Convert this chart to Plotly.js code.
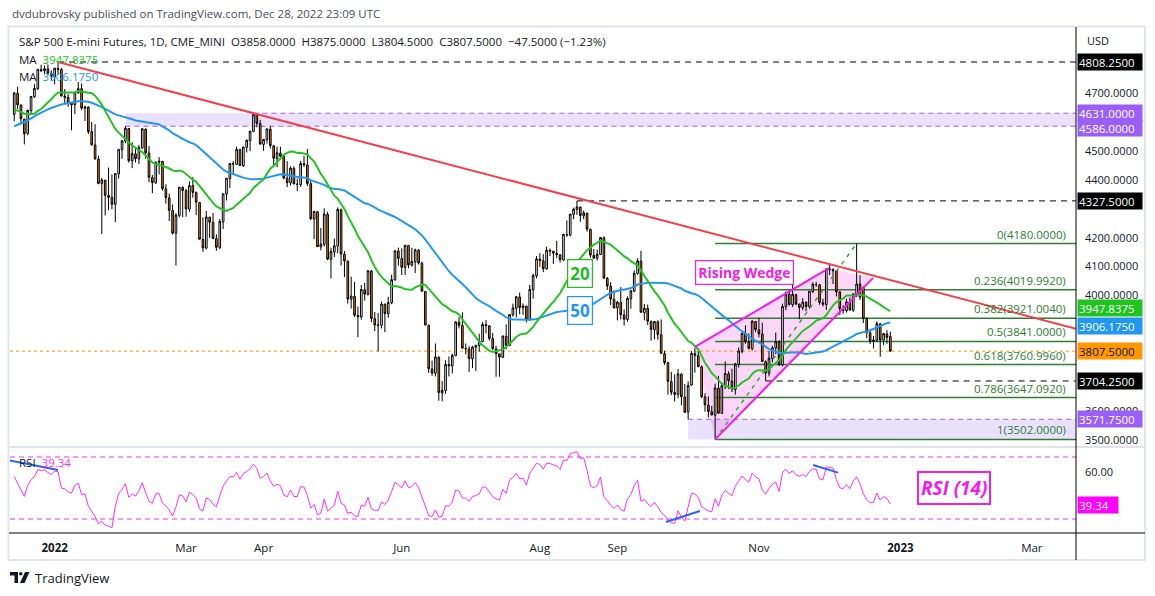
<!DOCTYPE html>
<html><head><meta charset="utf-8">
<script src="https://cdn.plot.ly/plotly-3.0.1.min.js"></script>
<style>html,body{margin:0;padding:0;background:#fff;}#chart{width:1155px;height:596px;}</style>
</head><body><div id="chart"></div>
<script>
// ---- closes before the visible window (Oct 4 - Dec 14 2021), used only to warm up MA / RSI
const preCloses = [4292,4338,4356,4392,4383,4353,4343,4356,4430,4463,4478,4512,4528,4542,4537,4558,4567,4544,4588,4597,
4606,4623,4653,4672,4690,4694,4677,4639,4641,4675,4675,4693,4681,4697,4690,4675,4683,4693,4587,4647,4559,
4505,4569,4530,4584,4679,4693,4659,4704,4661,4626];

// ---- daily bars [open, high, low, close]
const dec2021 = [[4627,4704,4603,4701],[4700,4723,4646,4660],[4659,4662,4592,4612],[4610,4612,4523,4560],[4561,4643,4555,4641],[4640,4689,4626,4689],[4688,4732,4684,4717],[4716,4783,4712,4783],[4782,4799,4773,4778],[4778,4796,4765,4785],[4784,4800,4762,4770],[4769,4779,4746,4758]];
const jan2022 = [[4757,4787,4731,4787],[4786,4808.25,4764,4783],[4782,4788,4689,4691],[4690,4715,4661,4686],[4686,4698,4653,4667],[4666,4668,4572,4660],[4660,4704,4628,4703],[4702,4739,4698,4716],[4716,4734,4641,4649],[4648,4656,4604,4653],[4652,4655,4559,4567],[4567,4601,4518,4522],[4521,4593,4470,4473],[4472,4484,4385,4388],[4388,4407,4213,4400],[4399,4401,4277,4347],[4346,4443,4295,4340],[4340,4419,4299,4316],[4316,4422,4254,4422],[4421,4507,4405,4506]];
const feb2022 = [[4505,4537,4473,4536],[4535,4586,4527,4579],[4578,4580,4460,4467],[4466,4530,4441,4491],[4490,4511,4461,4474],[4473,4521,4455,4512],[4511,4580,4508,4577],[4576,4578,4474,4494],[4493,4517,4392,4409],[4408,4417,4354,4391],[4390,4462,4386,4462],[4461,4479,4419,4465],[4464,4466,4363,4370],[4369,4385,4318,4339],[4338,4353,4258,4295],[4294,4315,4211,4216],[4215,4285,4104,4278],[4277,4375,4270,4375],[4374,4378,4271,4364]];
const mar2022 = [[4363,4369,4273,4300],[4299,4395,4290,4381],[4380,4410,4339,4357],[4356,4360,4279,4323],[4322,4324,4193,4195],[4194,4271,4151,4165],[4164,4293,4160,4272],[4271,4273,4200,4254],[4253,4286,4196,4198],[4197,4212,4155,4167],[4166,4265,4160,4256],[4255,4352,4230,4352],[4351,4406,4329,4406],[4405,4459,4372,4457],[4456,4466,4419,4455],[4454,4516,4452,4506],[4505,4508,4449,4450],[4449,4514,4445,4514],[4513,4540,4495,4537],[4536,4569,4500,4569],[4568,4631,4565,4626],[4625,4627,4582,4596],[4595,4608,4525,4524]];
const apr2022 = [[4523,4542,4501,4540],[4539,4577,4526,4577],[4576,4587,4509,4519],[4518,4520,4444,4475],[4474,4515,4444,4494],[4493,4515,4478,4482],[4481,4483,4402,4407],[4406,4465,4375,4391],[4390,4447,4381,4441],[4440,4447,4386,4386],[4385,4405,4361,4385],[4384,4465,4376,4457],[4456,4483,4445,4453],[4452,4507,4379,4388],[4387,4397,4261,4266],[4265,4293,4195,4291],[4290,4292,4169,4169],[4168,4234,4156,4178],[4177,4302,4170,4282],[4281,4290,4122,4126]];
const may2022 = [[4125,4166,4059,4152],[4151,4197,4133,4172],[4171,4305,4146,4298],[4297,4301,4104,4144],[4143,4154,4064,4120],[4119,4121,3972,3988],[3987,4065,3955,3998],[3997,4047,3926,3932],[3931,3962,3856,3927],[3926,4036,3916,4021],[4020,4044,3982,4005],[4004,4087,4000,4086],[4085,4088,3908,3921],[3920,3943,3877,3898],[3897,3940,3807,3898],[3897,3979,3886,3971],[3970,3972,3873,3938],[3937,3996,3923,3976],[3975,4072,3970,4055],[4054,4155,4052,4155],[4154,4166,4104,4129]];
const jun2022 = [[4128,4163,4071,4098],[4097,4174,4071,4174],[4173,4175,4094,4106],[4105,4165,4100,4118],[4117,4162,4078,4158],[4157,4161,4107,4113],[4112,4117,4014,4015],[4014,4016,3898,3898],[3897,3899,3732,3747],[3746,3775,3722,3732],[3731,3834,3720,3787],[3786,3790,3636,3664],[3663,3704,3634,3672],[3671,3776,3660,3762],[3761,3789,3720,3757],[3756,3799,3730,3793],[3792,3910,3790,3909],[3908,3925,3886,3897],[3896,3942,3817,3818],[3817,3834,3796,3816],[3815,3825,3735,3782]];
const jul2022 = [[3781,3826,3749,3822],[3821,3829,3739,3828],[3827,3868,3806,3842],[3841,3908,3838,3900],[3899,3915,3869,3896],[3895,3897,3844,3852],[3851,3871,3811,3816],[3815,3826,3719,3799],[3798,3800,3719,3787],[3786,3861,3784,3860],[3859,3900,3814,3828],[3827,3936,3825,3934],[3933,3972,3927,3957],[3956,3996,3924,3996],[3995,4010,3935,3959],[3958,3973,3933,3964],[3963,3965,3907,3918],[3917,4037,3912,4021],[4020,4076,3989,4069],[4068,4137,4060,4127]];
const aug2022 = [[4126,4147,4099,4121],[4120,4143,4081,4093],[4092,4169,4090,4157],[4156,4163,4137,4154],[4153,4155,4109,4147],[4146,4189,4130,4142],[4141,4143,4114,4124],[4123,4213,4120,4212],[4211,4260,4203,4210],[4209,4282,4205,4282],[4281,4304,4264,4299],[4298,4327.5,4279,4307],[4306,4308,4255,4277],[4276,4294,4264,4286],[4285,4287,4221,4230],[4229,4231,4131,4140],[4139,4161,4126,4130],[4129,4159,4121,4143],[4142,4202,4140,4201],[4200,4205,4059,4060],[4059,4064,4019,4033],[4032,4046,3967,3988],[3987,4018,3956,3957]];
const sep2022 = [[3958,3981,3914,3977],[3976,4029,3917,3934],[3933,3952,3896,3918],[3917,3997,3909,3990],[3989,4020,3954,4016],[4015,4087,4013,4077],[4076,4129,4072,4120],[4119,4155,3943,3942],[3941,3971,3914,3956],[3955,3969,3898,3911],[3910,3914,3844,3883],[3882,3911,3848,3910],[3909,3914,3847,3866],[3865,3917,3799,3800],[3799,3809,3760,3768],[3767,3771,3657,3703],[3702,3736,3655,3665],[3664,3727,3633,3658],[3657,3746,3644,3729],[3728,3730,3620,3650],[3649,3694,3594,3596]];
const oct2022 = [[3597,3703,3571.75,3689],[3690,3808,3688,3800],[3799,3818,3733,3793],[3792,3808,3752,3754],[3753,3758,3645,3650],[3649,3662,3598,3622],[3621,3651,3578,3599],[3598,3618,3585,3587],[3586,3695,3502,3680],[3679,3722,3590,3593],[3592,3699,3590,3687],[3686,3772,3676,3730],[3729,3738,3676,3705],[3704,3747,3666,3676],[3675,3767,3657,3763],[3762,3820,3751,3808],[3807,3872,3800,3869],[3868,3897,3833,3840],[3839,3869,3813,3817],[3816,3915,3810,3911],[3910,3912,3873,3882]];
const nov2022 = [[3881,3923,3855,3868],[3867,3906,3770,3772],[3771,3775,3704.25,3732],[3731,3808,3720,3783],[3782,3826,3768,3819],[3818,3872,3797,3840],[3839,3845,3756,3761],[3760,3972,3755,3962],[3961,4014,3949,4005],[4004,4020,3965,3969],[3968,4040,3960,4004],[4003,4006,3967,3971],[3970,3972,3918,3959],[3958,3991,3949,3977],[3976,3980,3945,3962],[3961,4015,3955,4015],[4014,4046,4008,4039],[4038,4047,4030,4038],[4037,4040,3968,3976],[3975,3989,3962,3970],[3969,4093,3950,4092]];
const dec2022 = [[4091,4110,4071,4090],[4089,4095,4040,4086],[4085,4088,3997,4013],[4012,4016,3932,3955],[3954,3966,3937,3948],[3947,3989,3941,3978],[3977,3993,3948,3950],[3949,4006,3944,4006],[4005,4180,3995,4040],[4040,4070,3985,3995],[4028,4032,3905,3920],[3919,3925,3852,3872],[3871,3880,3832,3843],[3842,3860,3817,3846],[3845,3910,3840,3903],[3902,3904,3788,3846],[3845,3871,3829,3868],[3867,3880,3833,3855],[3858,3875,3804.5,3807.5]];

// ---- axis ticks (price ticks hidden behind tags are left out, as in the reference)
const monthTickIdx  = [12, 51, 74, 115, 156, 179, 221, 263, 302];
const monthTickText = ['<b>2022</b>','Mar','Apr','Jun','Aug','Sep','Nov','<b>2023</b>','Mar'];
const priceTicks = [3500,3600,4000,4100,4200,4400,4500,4700];
const rsiTicks = [60];

// ---- drawings (bar index, price)
const trendAnchorX = [13, 71], trendAnchorY = [4808.25, 4631];
const dashedLevels = [4808.25, 4327.5, 3704.25], dashedFrom = [13, 167, 223];
const upperZone = [4586, 4631], upperZoneFrom = [33, 71];
const lowerZone = [3502, 3571.75], lowerZoneFrom = 200;
const fibHigh = 4180, fibLow = 3502, fibFromIdx = 208, fibToIdx = 250;
const fibRatios = [0, 0.236, 0.382, 0.5, 0.618, 0.786, 1];
const wedgeUpperX = [202, 241.8], wedgeUpperY = [3822, 4095];
const wedgeLowerX = [208, 254.9], wedgeLowerY = [3502, 4061];
const rsiDivX = [[-3, 13], [193.4, 203.5], [237.1, 244.5]];
const rsiDivY = [[68.5, 61.6], [28.1, 35.2], [64.8, 59.9]];
const ma20Text = '3947.8375', ma50Text = '3906.1750', rsiText = '39.34';
const rsiTag = 39.34;

// ---- build series
const bars = [].concat(dec2021, jan2022, feb2022, mar2022, apr2022, may2022, jun2022, jul2022, aug2022, sep2022, oct2022, nov2022, dec2022);
const idx = bars.map((_, i) => i);
const opens = bars.map(b => b[0]), highs = bars.map(b => b[1]), lows = bars.map(b => b[2]), closes = bars.map(b => b[3]);
const all = preCloses.concat(closes), P = preCloses.length;
function sma(n) { return closes.map((_, i) => { const e = P + i; let s = 0; for (let k = e - n + 1; k <= e; k++) s += all[k]; return s / n; }); }
function rsi(n) { let ag = 0, al = 0; const out = []; for (let k = 1; k < all.length; k++) { const d = all[k] - all[k-1]; const g = Math.max(d, 0), l = Math.max(-d, 0); if (k <= n) { ag += g / n; al += l / n; } else { ag = (ag * (n - 1) + g) / n; al = (al * (n - 1) + l) / n; } if (k >= P) out.push(100 - 100 / (1 + ag / al)); } return out; }
const ma20 = sma(20), ma50 = sma(50), rsi14 = rsi(14);
const last = bars.length - 1;
const chg = closes[last] - closes[last - 1], pct = chg / closes[last - 1] * 100;

// ---- geometry
const X0 = -1.25, X1 = 315.1;
const L = 10, R = 79, T = 28, B = 63, W = 1155, H = 596;
const PW = W - L - R, PH = H - T - B;
const PX = px => (px - L) / PW, PY = py => (H - B - py) / PH;
const split = (533 - 447) / PH;
const F = 'Open Sans, Liberation Sans, sans-serif';
const ink = '#131722';
const GREEN = '#26c126', BLUE = '#2196f3', MAG = '#ff2bff', FIBC = '#2e7d32', PURP = '#9a5ff6', RED = '#f2404f';

const traces = [
  {type:'candlestick', x:idx, open:opens, high:highs, low:lows, close:closes, xaxis:'x', yaxis:'y',
   increasing:{line:{color:'#000', width:1}, fillcolor:'#ffffff'},
   decreasing:{line:{color:'#000', width:1}, fillcolor:'#f57c00'}, whiskerwidth:0, hoverinfo:'skip'},
  {type:'scatter', mode:'lines', x:idx, y:ma50, line:{color:BLUE, width:2}, xaxis:'x', yaxis:'y', hoverinfo:'skip'},
  {type:'scatter', mode:'lines', x:idx, y:ma20, line:{color:GREEN, width:2}, xaxis:'x', yaxis:'y', hoverinfo:'skip'},
  {type:'scatter', mode:'lines', x:idx, y:rsi14, line:{color:MAG, width:1}, xaxis:'x', yaxis:'y2', hoverinfo:'skip'}
];

const shapes = [];
shapes.push({type:'rect', xref:'x', yref:'y', x0:upperZoneFrom[0], x1:X1, y0:upperZone[0], y1:upperZone[1], fillcolor:'rgba(155,120,245,0.22)', line:{width:0}, layer:'below'});
shapes.push({type:'rect', xref:'x', yref:'y', x0:lowerZoneFrom, x1:X1, y0:lowerZone[0], y1:lowerZone[1], fillcolor:'rgba(155,120,245,0.22)', line:{width:0}, layer:'below'});
shapes.push({type:'line', xref:'x', yref:'y', x0:upperZoneFrom[0], x1:X1, y0:upperZone[0], y1:upperZone[0], line:{color:PURP, width:1, dash:'5px,4px'}, layer:'below'});
shapes.push({type:'line', xref:'x', yref:'y', x0:upperZoneFrom[1], x1:X1, y0:upperZone[1], y1:upperZone[1], line:{color:PURP, width:1, dash:'5px,4px'}, layer:'below'});
shapes.push({type:'line', xref:'x', yref:'y', x0:lowerZoneFrom, x1:X1, y0:lowerZone[1], y1:lowerZone[1], line:{color:PURP, width:1, dash:'5px,4px'}, layer:'below'});
shapes.push({type:'path', xref:'x', yref:'y', layer:'below', line:{width:0}, fillcolor:'rgba(245,90,230,0.25)',
  path:`M${wedgeUpperX[0]},${wedgeUpperY[0]} L${wedgeUpperX[1]},${wedgeUpperY[1]} L${wedgeLowerX[1]},${wedgeLowerY[1]} L${wedgeLowerX[0]},${wedgeLowerY[0]} Z`});
fibRatios.forEach(r => { const v = fibHigh - r * (fibHigh - fibLow);
  shapes.push({type:'line', xref:'x', yref:'y', x0:fibFromIdx, x1:X1, y0:v, y1:v, line:{color:FIBC, width:1.5}, layer:'below'}); });
shapes.push({type:'line', xref:'x', yref:'y', x0:fibFromIdx, x1:fibToIdx, y0:fibLow, y1:fibHigh, line:{color:'#3aa83a', width:1.5, dash:'4px,5px'}});
dashedLevels.forEach((v, i) => shapes.push({type:'line', xref:'x', yref:'y', x0:dashedFrom[i], x1:X1, y0:v, y1:v, line:{color:'#000', width:1, dash:'6px,5px'}}));
shapes.push({type:'line', xref:'x', yref:'y', x0:X0, x1:X1, y0:closes[last], y1:closes[last], line:{color:'#ff9800', width:1, dash:'dot'}, layer:'below'});
shapes.push({type:'line', xref:'x', yref:'y', x0:wedgeUpperX[0], x1:wedgeUpperX[1], y0:wedgeUpperY[0], y1:wedgeUpperY[1], line:{color:'#f01ee8', width:2}});
shapes.push({type:'line', xref:'x', yref:'y', x0:wedgeLowerX[0], x1:wedgeLowerX[1], y0:wedgeLowerY[0], y1:wedgeLowerY[1], line:{color:'#f01ee8', width:2}});
const slope = (trendAnchorY[1] - trendAnchorY[0]) / (trendAnchorX[1] - trendAnchorX[0]);
shapes.push({type:'line', xref:'x', yref:'y', x0:trendAnchorX[0], y0:trendAnchorY[0], x1:X1, y1:trendAnchorY[0] + slope * (X1 - trendAnchorX[0]), line:{color:RED, width:2}});
[70, 30].forEach(v => shapes.push({type:'line', xref:'x', yref:'y2', x0:X0, x1:X1, y0:v, y1:v, line:{color:'#ee33ee', width:1, dash:'5px,4px'}}));
rsiDivX.forEach((xs, i) => shapes.push({type:'line', xref:'x', yref:'y2', x0:xs[0], x1:xs[1], y0:rsiDivY[i][0], y1:rsiDivY[i][1], line:{color:'#2962ff', width:2}}));
shapes.push({type:'rect', xref:'paper', yref:'paper', x0:PX(8.5), x1:PX(1145), y0:PY(560), y1:PY(26.5), line:{color:'#e3e5ec', width:2}, fillcolor:'rgba(0,0,0,0)'});
shapes.push({type:'line', xref:'paper', yref:'paper', x0:PX(9), x1:PX(1145), y0:split, y1:split, line:{color:'#e0e3eb', width:2}});
shapes.push({type:'line', xref:'paper', yref:'paper', x0:1, x1:1, y0:PY(560), y1:PY(27), line:{color:'#000', width:1}});
shapes.push({type:'line', xref:'paper', yref:'paper', x0:PX(9), x1:PX(1145), y0:0, y1:0, line:{color:'#000', width:1}});
shapes.push({type:'path', xref:'paper', yref:'paper', fillcolor:ink, line:{width:0},
  path:`M${PX(10)},${PY(572)} L${PX(18)},${PY(572)} L${PX(18)},${PY(583)} L${PX(14.5)},${PY(583)} L${PX(14.5)},${PY(575.5)} L${PX(10)},${PY(575.5)} Z`});
shapes.push({type:'circle', xref:'paper', yref:'paper', fillcolor:ink, line:{width:0}, x0:PX(19), x1:PX(22.5), y0:PY(575.5), y1:PY(572)});
shapes.push({type:'path', xref:'paper', yref:'paper', fillcolor:ink, line:{width:0},
  path:`M${PX(25)},${PY(572)} L${PX(29.5)},${PY(572)} L${PX(24.5)},${PY(583)} L${PX(20)},${PY(583)} Z`});

const ann = [];
const txt = (x, y, text, opts) => ann.push(Object.assign({xref:'paper', yref:'paper', x:x, y:y, text:text, showarrow:false, xanchor:'left', yanchor:'middle', font:{family:F, size:11.5, color:ink}}, opts || {}));
txt(PX(10), PY(14), 'dvdubrovsky published on TradingView.com, Dec 28, 2022 23:09 UTC', {font:{family:F, size:11.5, color:'#4a4e59'}});
const f4 = v => v.toFixed(4);
txt(PX(17), PY(41), 'S&P 500 E-mini Futures, 1D, CME_MINI\u00a0\u00a0O' + f4(opens[last]) + '\u00a0\u00a0H' + f4(highs[last]) + '\u00a0\u00a0L' + f4(lows[last]) + '\u00a0\u00a0C' + f4(closes[last]) + '\u00a0\u00a0' + (chg < 0 ? '\u2212' : '+') + f4(Math.abs(chg)) + ' (' + (pct < 0 ? '\u2212' : '+') + Math.abs(pct).toFixed(2) + '%)');
txt(PX(17), PY(59), 'MA\u00a0\u00a0<span style="color:' + GREEN + '">' + ma20Text + '</span>');
txt(PX(17), PY(77), 'MA\u00a0\u00a0<span style="color:' + BLUE + '">' + ma50Text + '</span>');
txt(PX(17), PY(462), 'RSI\u00a0\u00a0<span style="color:' + MAG + '">' + rsiText + '</span>');
txt(PX(1085), PY(40), 'USD', {font:{family:F, size:11, color:ink}});
txt(PX(33), PY(578), 'TradingView', {font:{family:F, size:13, color:ink}});

// price tags: placed at their price, or at the pixel row the reference shifts them to when they would collide
const tagAt = (yref, y, label, bg, fg) => ann.push({xref:'paper', yref:yref, x:PX(1077), y:y, text:label, showarrow:false, xanchor:'left', yanchor:'middle',
  bgcolor:bg, font:{family:F, size:11.5, color:fg}, width:62, height:14, align:'left', borderpad:1});
tagAt('y', dashedLevels[0], f4(dashedLevels[0]), '#000000', '#ffffff');
tagAt('paper', PY(112.5), f4(upperZone[1]), PURP, '#ffffff');
tagAt('paper', PY(128.5), f4(upperZone[0]), PURP, '#ffffff');
tagAt('y', dashedLevels[1], f4(dashedLevels[1]), '#000000', '#ffffff');
tagAt('paper', PY(308), ma20Text, '#1fc41f', '#ffffff');
tagAt('paper', PY(326), ma50Text, '#2196f3', '#ffffff');
tagAt('y', closes[last], f4(closes[last]), '#ff9800', ink);
tagAt('y', dashedLevels[2], f4(dashedLevels[2]), '#000000', '#ffffff');
tagAt('y', lowerZone[1], f4(lowerZone[1]), PURP, '#ffffff');
ann.push({xref:'paper', yref:'y2', x:PX(1077), y:rsiTag, text:rsiText, showarrow:false, xanchor:'left', yanchor:'middle', bgcolor:'#ff00ff', font:{family:F, size:11.5, color:'#ffffff'}, width:38, height:14, align:'left', borderpad:1});

fibRatios.forEach(r => { const v = fibHigh - r * (fibHigh - fibLow);
  ann.push({xref:'paper', yref:'y', x:PX(1067), y:v, text:r + '(' + f4(v) + ')', showarrow:false, xanchor:'right', yanchor:'bottom', yshift:1, borderpad:0,
    font:{family:F, size:11.5, color:FIBC}}); });

const box = (cx, cy, text, color, size, bw) => ann.push({xref:'paper', yref:'paper', x:PX(cx), y:PY(cy), text:text, showarrow:false, xanchor:'center', yanchor:'middle',
  bgcolor:'#ffffff', bordercolor:color, borderwidth:bw, borderpad:2, font:{family:F, size:size, color:color}});
box(580, 273, '<b>20</b>', '#22bb22', 17, 1.2);
box(580, 310, '<b>50</b>', BLUE, 17, 1.2);
box(744, 272, '<b>Rising Wedge</b>', '#f01ee8', 14, 1.2);
box(953.5, 488, '<b><i>RSI (14)</i></b>', '#f01ee8', 19, 2);

const layout = {
  width:W, height:H, margin:{l:L, r:R, t:T, b:B}, paper_bgcolor:'#ffffff', plot_bgcolor:'#ffffff',
  showlegend:false, hovermode:false, dragmode:false,
  xaxis:{range:[X0, X1], anchor:'y2', tickvals:monthTickIdx, ticktext:monthTickText, showgrid:false, zeroline:false, showline:false, ticks:'',
    tickfont:{family:F, size:11.5, color:ink}, ticklabelstandoff:6, rangeslider:{visible:false}, fixedrange:true},
  yaxis:{domain:[split, 1], range:[3475.77, 4925.9], side:'right', anchor:'x', tickvals:priceTicks, tickformat:'.4f', showgrid:false, zeroline:false, showline:false, ticks:'',
    tickfont:{family:F, size:11, color:ink}, ticklabelstandoff:8, fixedrange:true},
  yaxis2:{domain:[0, split], range:[20.97, 76.45], side:'right', anchor:'x', tickvals:rsiTicks, tickformat:'.2f', showgrid:false, zeroline:false, showline:false, ticks:'',
    tickfont:{family:F, size:11, color:ink}, ticklabelstandoff:8, fixedrange:true},
  shapes:shapes, annotations:ann
};
Plotly.newPlot('chart', traces, layout, {staticPlot:true, displayModeBar:false});
</script></body></html>
